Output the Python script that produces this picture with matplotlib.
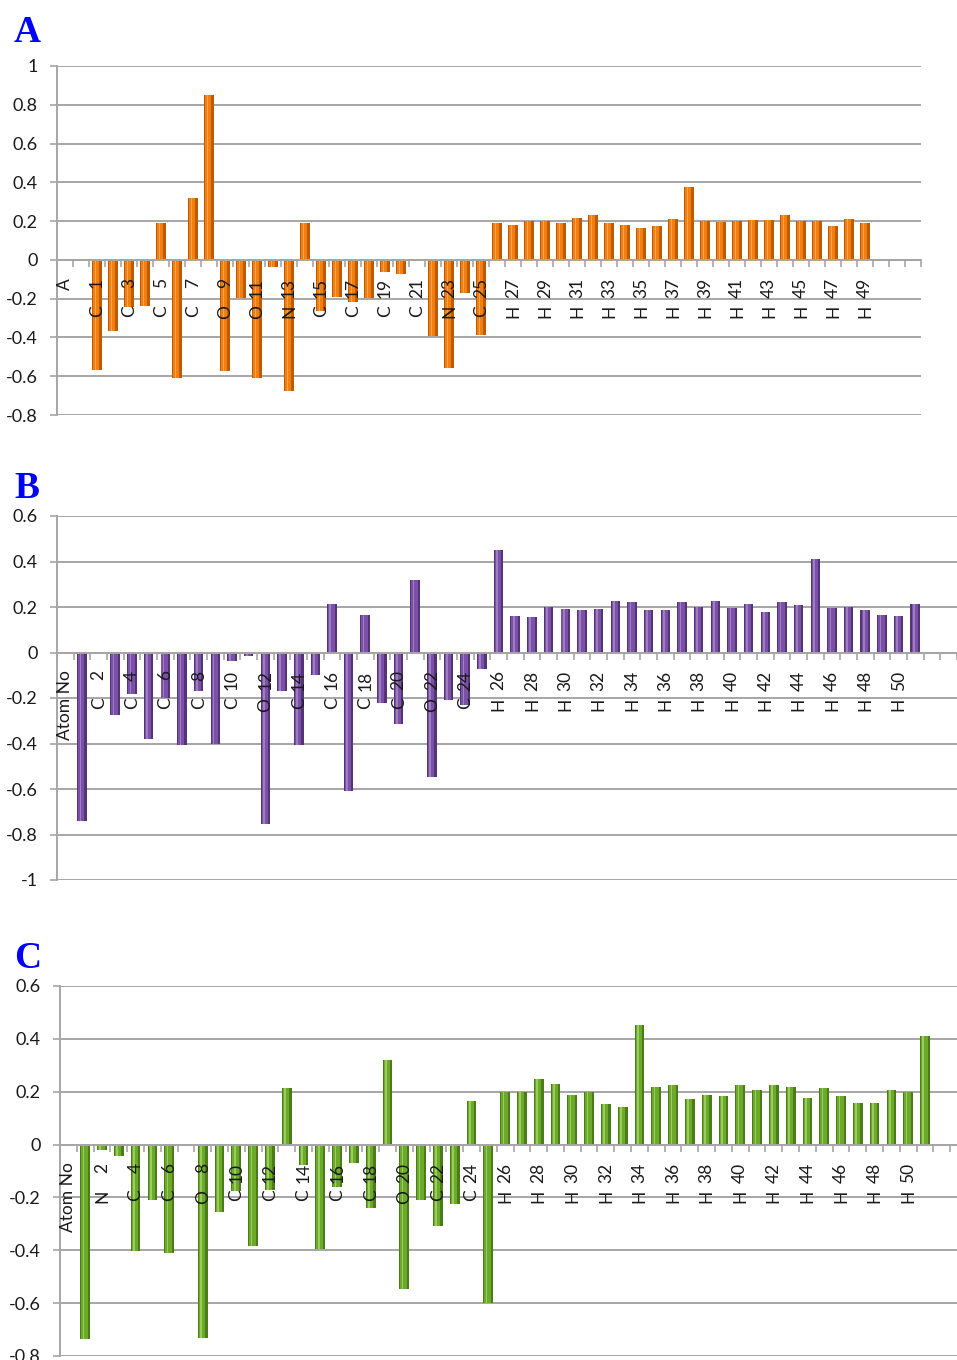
import matplotlib.pyplot as plt

# ---- data: Mulliken-type atomic charges for three molecules ----
# panel A: atoms 1..49 (category 0 = "A" header, category 1 empty)
a_atoms = list(range(1, 50))
a_elems = ['C', 'C', 'C', 'C', 'C', 'C', 'C', 'C', 'O', 'O', 'O', 'O', 'N', 'C',
           'C', 'C', 'C', 'C', 'C', 'C', 'C', 'N', 'N', 'C', 'C'] + ['H'] * 24
a_vals = [-0.567, -0.366, -0.241, -0.237, 0.189, -0.610, 0.318, 0.851, -0.572,
          -0.199, -0.610, -0.038, -0.674, 0.189, -0.263, -0.189, -0.217, -0.199,
          -0.064, -0.072, -0.005, -0.395, -0.559, -0.172, -0.387,
          0.189, 0.182, 0.198, 0.198, 0.189, 0.218, 0.234, 0.189, 0.182, 0.167,
          0.177, 0.210, 0.376, 0.203, 0.196, 0.198, 0.205, 0.205, 0.234, 0.199,
          0.198, 0.175, 0.210, 0.189]

# panel B: atoms 1..51
b_atoms = list(range(1, 52))
b_elems = ['C', 'C', 'C', 'C', 'C', 'C', 'C', 'C', 'C', 'C', 'O', 'O', 'C', 'C',
           'C', 'C', 'C', 'C', 'C', 'C', 'O', 'O', 'C', 'C', 'C'] + ['H'] * 26
b_vals = [-0.741, -0.005, -0.273, -0.183, -0.382, -0.200, -0.408, -0.170, -0.400,
          -0.037, -0.016, -0.752, -0.170, -0.408, -0.097, 0.214, -0.608, 0.167,
          -0.224, -0.316, 0.318, -0.547, -0.207, -0.230, -0.073,
          0.450, 0.160, 0.154, 0.202, 0.190, 0.185, 0.190, 0.227, 0.220, 0.185,
          0.185, 0.220, 0.202, 0.227, 0.196, 0.214, 0.177, 0.220, 0.208, 0.413,
          0.196, 0.202, 0.185, 0.166, 0.160, 0.214]

# panel C: atoms 1..51
c_atoms = list(range(1, 52))
c_elems = ['C', 'N', 'C', 'C', 'C', 'C', 'C', 'O', 'C', 'C', 'C', 'C', 'C', 'C',
           'C', 'C', 'C', 'C', 'C', 'O', 'C', 'C', 'C', 'C', 'C'] + ['H'] * 26
c_vals = [-0.737, -0.020, -0.045, -0.404, -0.208, -0.410, 0.0, -0.733, -0.255,
          -0.177, -0.385, -0.171, 0.214, -0.077, -0.397, -0.161, -0.069, -0.240,
          0.321, -0.548, -0.208, -0.309, -0.224, 0.166, -0.599,
          0.199, 0.199, 0.248, 0.229, 0.187, 0.199, 0.153, 0.141, 0.452, 0.219,
          0.225, 0.172, 0.187, 0.182, 0.225, 0.208, 0.225, 0.219, 0.177, 0.214,
          0.182, 0.158, 0.158, 0.208, 0.199, 0.410]

FIG_W, FIG_H = 957, 1360
plt.rcParams['font.family'] = ['Lato', 'DejaVu Sans']

fig = plt.figure(figsize=(FIG_W / 100, FIG_H / 100), dpi=100)


def px_axes(left, top, right, bottom):
    return fig.add_axes([left / FIG_W, 1 - bottom / FIG_H,
                         (right - left) / FIG_W, (bottom - top) / FIG_H])


def draw_panel(ax, atoms, elems, vals, offset, header, yticks, colors,
               label_every_odd):
    dark, mid, light = colors
    xs = [a + offset for a in atoms]
    # cylinder-ish bars: dark body, mid core, light highlight
    ax.bar(xs, vals, width=0.58, color=dark, zorder=3)
    ax.bar([x - 0.04 for x in xs], vals, width=0.38, color=mid, zorder=4)
    ax.bar([x - 0.1 for x in xs], vals, width=0.1, color=light, zorder=5,
           alpha=0.8)

    ax.set_xlim(-0.5, 53.5)
    ax.set_ylim(yticks[0], yticks[-1])
    ax.set_yticks(yticks)
    ax.set_yticklabels([f'{t:g}' for t in yticks])
    ax.yaxis.grid(True, color='#a6a6a6', lw=1.4, zorder=0)
    ax.set_axisbelow(True)
    ax.tick_params(axis='y', length=5, width=1.2, color='#a6a6a6',
                   labelsize=13, labelcolor='#1a1a1a', pad=9)

    # category axis sits on zero with ticks between categories
    ax.spines['bottom'].set_position(('data', 0))
    ax.set_xticks([k + 0.5 for k in range(-1, 54)])
    ax.set_xticklabels([])
    ax.tick_params(axis='x', length=5, width=1.2, color='#a6a6a6')
    for s in ['top', 'right']:
        ax.spines[s].set_visible(False)
    for s in ['left', 'bottom']:
        ax.spines[s].set_color('#a6a6a6')
        ax.spines[s].set_linewidth(1.4)
        ax.spines[s].set_zorder(6)

    txt = dict(rotation=90, ha='center', va='top', fontsize=12.5,
               color='#1a1a1a', textcoords='offset pixels', xycoords='data',
               zorder=7, annotation_clip=False)
    ax.annotate(header, xy=(0, 0), xytext=(0, -18), **txt)
    for a, el, x in zip(atoms, elems, xs):
        if (a % 2 == 1) != label_every_odd:
            continue
        ax.annotate(str(a), xy=(x, 0), xytext=(0, -18), **txt)
        ax.annotate(el, xy=(x, 0), xytext=(0, -45), **txt)


axA = px_axes(57, 66, 921, 415)
draw_panel(axA, a_atoms, a_elems, a_vals, 1, 'A',
           [-0.8, -0.6, -0.4, -0.2, 0, 0.2, 0.4, 0.6, 0.8, 1],
           ('#c25a00', '#f08010', '#ffb060'), True)

axB = px_axes(57, 516, 957, 880)
draw_panel(axB, b_atoms, b_elems, b_vals, 0, 'Atom No',
           [-1, -0.8, -0.6, -0.4, -0.2, 0, 0.2, 0.4, 0.6],
           ('#553377', '#7a51a6', '#a88acb'), False)

axC = px_axes(60, 986, 967, 1356)
draw_panel(axC, c_atoms, c_elems, c_vals, 0, 'Atom No',
           [-0.8, -0.6, -0.4, -0.2, 0, 0.2, 0.4, 0.6],
           ('#4a7d18', '#6daa2c', '#a6d66a'), False)

for letter, y in [('A', 42), ('B', 498), ('C', 968)]:
    fig.text(14 / FIG_W, 1 - y / FIG_H, letter, color='#0000ff',
             fontsize=27, fontweight='bold', family='Liberation Serif',
             ha='left', va='baseline')

fig.savefig('out.png', dpi=100)
